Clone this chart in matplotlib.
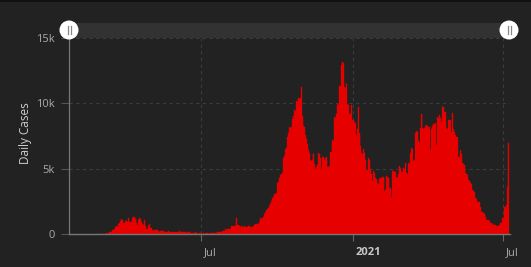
import matplotlib
matplotlib.use("Agg")
import matplotlib.pyplot as plt
import matplotlib.patches as mpatches
from matplotlib.lines import Line2D
from matplotlib.ticker import FuncFormatter
from matplotlib.transforms import ScaledTranslation
import pandas as pd

# daily cases, one list per month, first day 2020-02-27
feb20 = [1, 5, 6]
mar20 = [10, 18, 24, 38, 44, 46, 60, 77, 56, 61, 121, 190, 155, 176, 278, 292,
         346, 409, 534, 637, 573, 545, 811, 852, 1019, 1172, 1159, 1104, 884, 845, 1019]
apr20 = [1083, 1026, 904, 1224, 952, 964, 777, 969, 1213, 1335, 1316, 1174, 1150, 868, 734,
         1061, 1236, 1140, 1066, 964, 750, 729, 1066, 887, 655, 400, 400, 671, 786, 514]
may20 = [475, 445, 335, 280, 330, 380, 360, 330, 300, 270, 190, 220, 250, 230, 218, 228,
         180, 160, 190, 209, 200, 220, 190, 170, 150, 180, 190, 200, 205, 209, 195]
jun20 = [190, 185, 210, 192, 226, 210, 167, 172, 148, 173, 144, 139, 132, 166, 144,
         176, 180, 123, 117, 109, 94, 108, 102, 148, 92, 78, 71, 52, 68, 91]
jul20 = [46, 61, 68, 72, 52, 71, 72, 64, 70, 54, 80, 82, 68, 88, 92, 112,
         135, 128, 119, 163, 142, 178, 143, 184, 197, 188, 243, 263, 286, 382, 358]
aug20 = [342, 411, 370, 380, 399, 450, 600, 642, 617, 601, 635, 650, 1270, 682, 735, 655,
         553, 610, 652, 559, 558, 648, 583, 578, 536, 564, 606, 600, 575, 560, 540]
sep20 = [540, 620, 720, 780, 810, 800, 780, 770, 950, 1140, 1260, 1190, 1280, 1350, 1540,
         1570, 1720, 1840, 1960, 2020, 2150, 2350, 2300, 2540, 2780, 2810, 3000, 3050, 3100, 3150]
oct20 = [3900, 4000, 4050, 4300, 4500, 4600, 4700, 5800, 5900, 6000, 6500, 6600, 7400, 7700, 7800,
         8200, 8100, 8200, 8800, 8700, 9000, 9500, 9400, 10200, 10100, 10300, 10400, 10300, 10400,
         11250, 9000]
nov20 = [8700, 8300, 8200, 7600, 7300, 6900, 6500, 6400, 6200, 5700, 5600, 5700, 6200, 6100, 5400,
         5000, 5100, 5400, 5300, 6200, 6100, 5800, 5000, 5100, 5900, 5900, 5700, 5800, 5900, 5700]
dec20 = [5100, 5130, 5200, 6270, 6300, 6910, 7160, 7100, 8940, 8900, 9000, 9190, 9960, 9900, 11350,
         11300, 11400, 12880, 13130, 13100, 11230, 11200, 11610, 11500, 9960, 9900, 9190, 9200, 9100,
         9830, 8690]
jan21 = [8700, 8600, 8500, 7400, 7600, 8000, 9700, 7700, 7500, 6700, 6200, 6100, 6500, 6200, 5800,
         5700, 4900, 4900, 5800, 5700, 5100, 5000, 4600, 4100, 4800, 4700, 4400, 4300, 4200, 3900, 3860]
feb21 = [4240, 4200, 4300, 4270, 4390, 4400, 4350, 3330, 3400, 4450, 4400, 4300, 4200, 3500,
         3550, 2870, 4850, 4800, 4900, 4780, 4780, 4270, 4400, 4600, 5210, 5200, 5030, 4780]
mar21 = [4780, 4800, 5030, 5000, 5410, 4650, 4600, 4500, 5410, 5400, 6170, 6550, 6500, 5660, 5600,
         5700, 7700, 7870, 7800, 7190, 7100, 7000, 8080, 9170, 9100, 8080, 8000, 8100, 8250, 8330, 8300]
apr21 = [8300, 8200, 8200, 6430, 8000, 8330, 8300, 8410, 8400, 8510, 6810, 7000, 8920, 8900, 9090,
         8900, 8590, 8600, 9680, 9730, 9350, 9300, 8080, 8100, 8000, 8710, 8700, 8700, 7820, 7800]
may21 = [9220, 8000, 7770, 7600, 7440, 7440, 7400, 5920, 5900, 6430, 6170, 6100, 5410, 5400, 5300,
         5030, 4650, 4600, 4500, 4140, 4100, 3430, 3890, 3800, 3380, 3300, 3200, 2620, 2740, 2700, 2490]
jun21 = [2500, 2450, 2110, 2100, 1730, 1700, 1600, 1580, 1550, 1350, 1100, 1090, 1080, 1050, 1000,
         840, 840, 820, 710, 700, 700, 710, 640, 640, 650, 710, 710, 890, 900, 1220]
jul21 = [1220, 1500, 2110, 2110, 2200, 3630, 5410, 6990]

cases = (feb20 + mar20 + apr20 + may20 + jun20 + jul20 + aug20 + sep20 + oct20 + nov20 + dec20
         + jan21 + feb21 + mar21 + apr21 + may21 + jun21 + jul21)
dates = pd.date_range("2020-02-27", periods=len(cases), freq="D")

tick_dates = pd.to_datetime(["2020-07-01", "2021-01-01", "2021-07-01"])
tick_labels = ["Jul", "2021", "Jul"]
y_ticks = [0, 5000, 10000, 15000]

BG = "#222222"
RED = "#e60000"
W, H = 531, 267
font = "Open Sans"

fig = plt.figure(figsize=(W / 100, H / 100), dpi=100, facecolor=BG)
ax = fig.add_axes([69 / W, 1 - 234.3 / H, 441 / W, (234.3 - 37.7) / H])
ax.set_facecolor(BG)

ax.bar(dates, cases, width=1.0, color=RED, edgecolor=RED, linewidth=0.25, zorder=2)

ax.set_xlim(pd.Timestamp("2020-01-23"), pd.Timestamp("2021-07-09 08:00"))
ax.set_ylim(0, 15000)

ax.set_yticks(y_ticks)
ax.yaxis.set_major_formatter(FuncFormatter(lambda v, p: "0" if v == 0 else f"{int(v/1000)}k"))
ax.set_xticks(tick_dates)
ax.set_xticklabels(tick_labels)

ax.tick_params(axis="y", colors="#555555", labelcolor="#aaaaaa", labelsize=8, length=6, width=0.8, pad=4)
ax.tick_params(axis="x", colors="#666666", labelcolor="#aaaaaa", labelsize=8, length=5, width=0.8, pad=4)

for lab in ax.get_yticklabels():
    lab.set_fontfamily(font)
for lab in ax.get_xticklabels():
    lab.set_fontfamily(font)
    lab.set_horizontalalignment("left")
    lab.set_transform(lab.get_transform() + ScaledTranslation(2.5 / 100, 0, fig.dpi_scale_trans))
    if lab.get_text() == "2021":
        lab.set_fontweight("bold")
        lab.set_color("#c8c8c8")

ax.grid(True, axis="both", color="#3c3c3c", linestyle=(0, (3, 3)), linewidth=0.8, zorder=0)
for s in ["top", "right"]:
    ax.spines[s].set_visible(False)
ax.spines["left"].set_color("#777777")
ax.spines["left"].set_linewidth(0.9)
ax.spines["bottom"].set_color("#777777")
ax.spines["bottom"].set_linewidth(1.0)

fig.text(25 / W, 1 - 133 / H, "Daily Cases", rotation=90, ha="center", va="center",
         color="#d0d0d0", fontsize=8.5, fontfamily=font)

# scrollbar at the top
band = mpatches.Rectangle((69 / W, 1 - 37.5 / H), 440 / W, 14.5 / H, transform=fig.transFigure,
                          facecolor="#323232", edgecolor="none")
fig.add_artist(band)
for cx in (69, 509):
    cy = 30
    circ = mpatches.Ellipse((cx / W, 1 - cy / H), 19 / W, 19 / H, transform=fig.transFigure,
                            facecolor="white", edgecolor="none", zorder=5)
    fig.add_artist(circ)
    for dx in (-1.5, 1.5):
        fig.add_artist(Line2D([(cx + dx) / W] * 2, [1 - (cy - 4) / H, 1 - (cy + 4) / H],
                              transform=fig.transFigure, color="#888888", linewidth=0.9, zorder=6))

fig.add_artist(mpatches.Rectangle((0, 1 - 2 / H), 1, 2 / H, transform=fig.transFigure,
                                  facecolor="#111111", edgecolor="none"))

fig.savefig("out.png", dpi=100, facecolor=BG)
